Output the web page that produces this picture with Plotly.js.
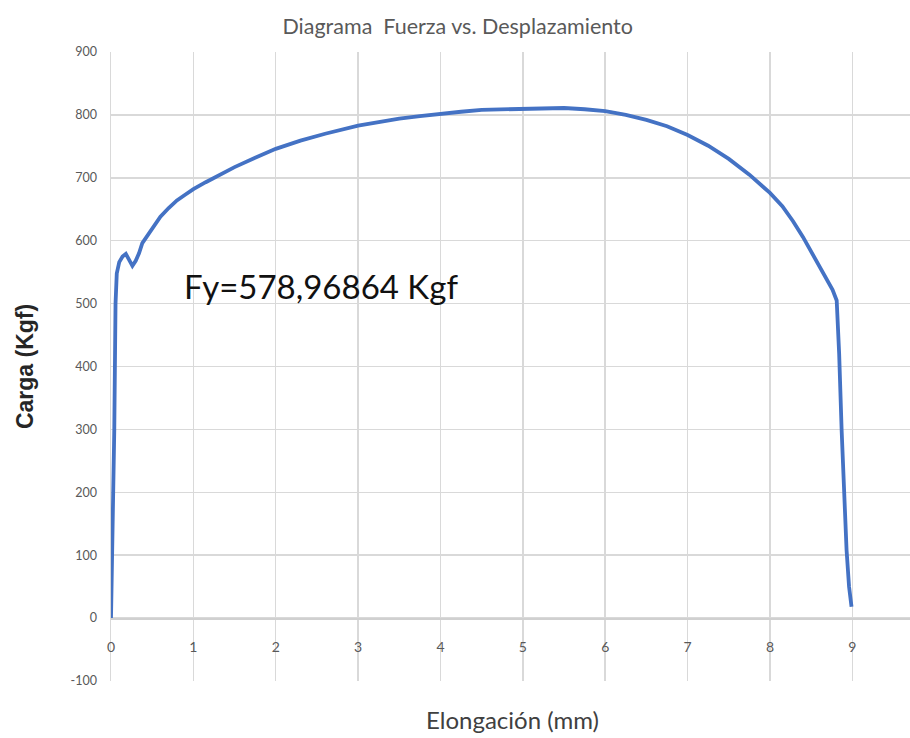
<!DOCTYPE html>
<html>
<head>
<meta charset="utf-8">
<script src="https://cdn.plot.ly/plotly-3.0.1.min.js"></script>
<style>html,body{margin:0;padding:0;background:#fff;}#chart{width:910px;height:738px;}</style>
</head>
<body>
<div id="chart"></div>
<script>
// Elongación (mm)
const elongacion = [0, 0.02, 0.04, 0.055, 0.07, 0.1, 0.14, 0.18, 0.22, 0.26, 0.3, 0.34, 0.38, 0.42, 0.5, 0.6, 0.7, 0.8, 0.9, 1.0, 1.15, 1.3, 1.5, 1.75, 2.0, 2.3, 2.6, 3.0, 3.25, 3.5, 3.75, 4.0, 4.25, 4.5, 4.75, 5.0, 5.25, 5.5, 5.75, 6.0, 6.25, 6.5, 6.75, 7.0, 7.25, 7.5, 7.75, 8.0, 8.15, 8.28, 8.4, 8.52, 8.62, 8.7, 8.76, 8.81, 8.84, 8.87, 8.9, 8.93, 8.96, 8.99];
// Carga (Kgf)
const carga = [0, 150, 300, 500, 548, 566, 575, 579, 570, 560, 568, 580, 596, 604, 620, 638, 652, 664, 673, 682, 693, 704, 717, 732, 746, 759, 770, 783, 789, 794, 798, 802, 805, 808, 809, 810, 811, 811, 809, 806, 800, 792, 782, 768, 751, 730, 705, 676, 655, 631, 606, 578, 557, 538, 522, 505, 420, 299, 200, 108, 50, 18];

const xTicks = [0, 1, 2, 3, 4, 5, 6, 7, 8, 9];
const yTicks = [-100, 0, 100, 200, 300, 400, 500, 600, 700, 800, 900];

const chartTitle = 'Diagrama  Fuerza vs. Desplazamiento';
const xTitle = 'Elongación (mm)';
const yTitle = 'Carga (Kgf)';
const fyLabel = 'Fy=578,96864 Kgf';
const fyPos = [0.86, 528];

const grid = '#d9d9d9';
const tickGray = '#595959';

const trace = {
  x: elongacion,
  y: carga,
  type: 'scatter',
  mode: 'lines',
  line: {color: '#4472c4', width: 3.8},
  hoverinfo: 'skip'
};

const layout = {
  width: 910,
  height: 738,
  paper_bgcolor: '#ffffff',
  plot_bgcolor: '#ffffff',
  margin: {l: 111, r: 0, t: 52, b: 57},
  showlegend: false,
  title: {
    text: chartTitle,
    font: {family: 'Lato, sans-serif', size: 21.5, color: '#595959'},
    x: 0.503, xref: 'container', xanchor: 'center',
    y: 29, yref: 'container', yanchor: 'middle'
  },
  xaxis: {
    range: [0, 9.7],
    tickvals: xTicks,
    ticktext: xTicks.map(String),
    anchor: 'free',
    position: 0.1,
    showgrid: true,
    gridcolor: grid,
    gridwidth: 1.5,
    zeroline: false,
    showline: true,
    linecolor: '#d0d0d0',
    linewidth: 1.5,
    ticks: '',
    ticklabelstandoff: 16,
    tickfont: {family: 'Lato, sans-serif', size: 14, color: tickGray},
    title: {text: ''}
  },
  yaxis: {
    range: [-100, 900],
    tickvals: yTicks,
    ticktext: yTicks.map(String),
    showgrid: true,
    gridcolor: grid,
    gridwidth: 1.5,
    zeroline: false,
    showline: true,
    linecolor: grid,
    linewidth: 1.5,
    ticks: '',
    ticklabelstandoff: 10,
    tickfont: {family: 'Lato, sans-serif', size: 12.5, color: tickGray},
    title: {
      text: yTitle,
      font: {family: '"Liberation Sans", Arial, sans-serif', size: 23, color: '#262626', weight: 'bold'},
      standoff: 30
    }
  },
  annotations: [
    {
      text: fyLabel,
      x: fyPos[0], y: fyPos[1], xref: 'x', yref: 'y',
      xanchor: 'left', yanchor: 'middle',
      showarrow: false,
      font: {family: 'Lato, sans-serif', size: 33, color: '#111111'}
    },
    {
      text: xTitle,
      x: 0.503, xref: 'paper', xanchor: 'center',
      y: -0.062, yref: 'paper', yanchor: 'middle',
      showarrow: false,
      font: {family: 'Lato, sans-serif', size: 24, color: '#404040'}
    }
  ]
};

Plotly.newPlot('chart', [trace], layout, {displayModeBar: false, staticPlot: true});
</script>
</body>
</html>
